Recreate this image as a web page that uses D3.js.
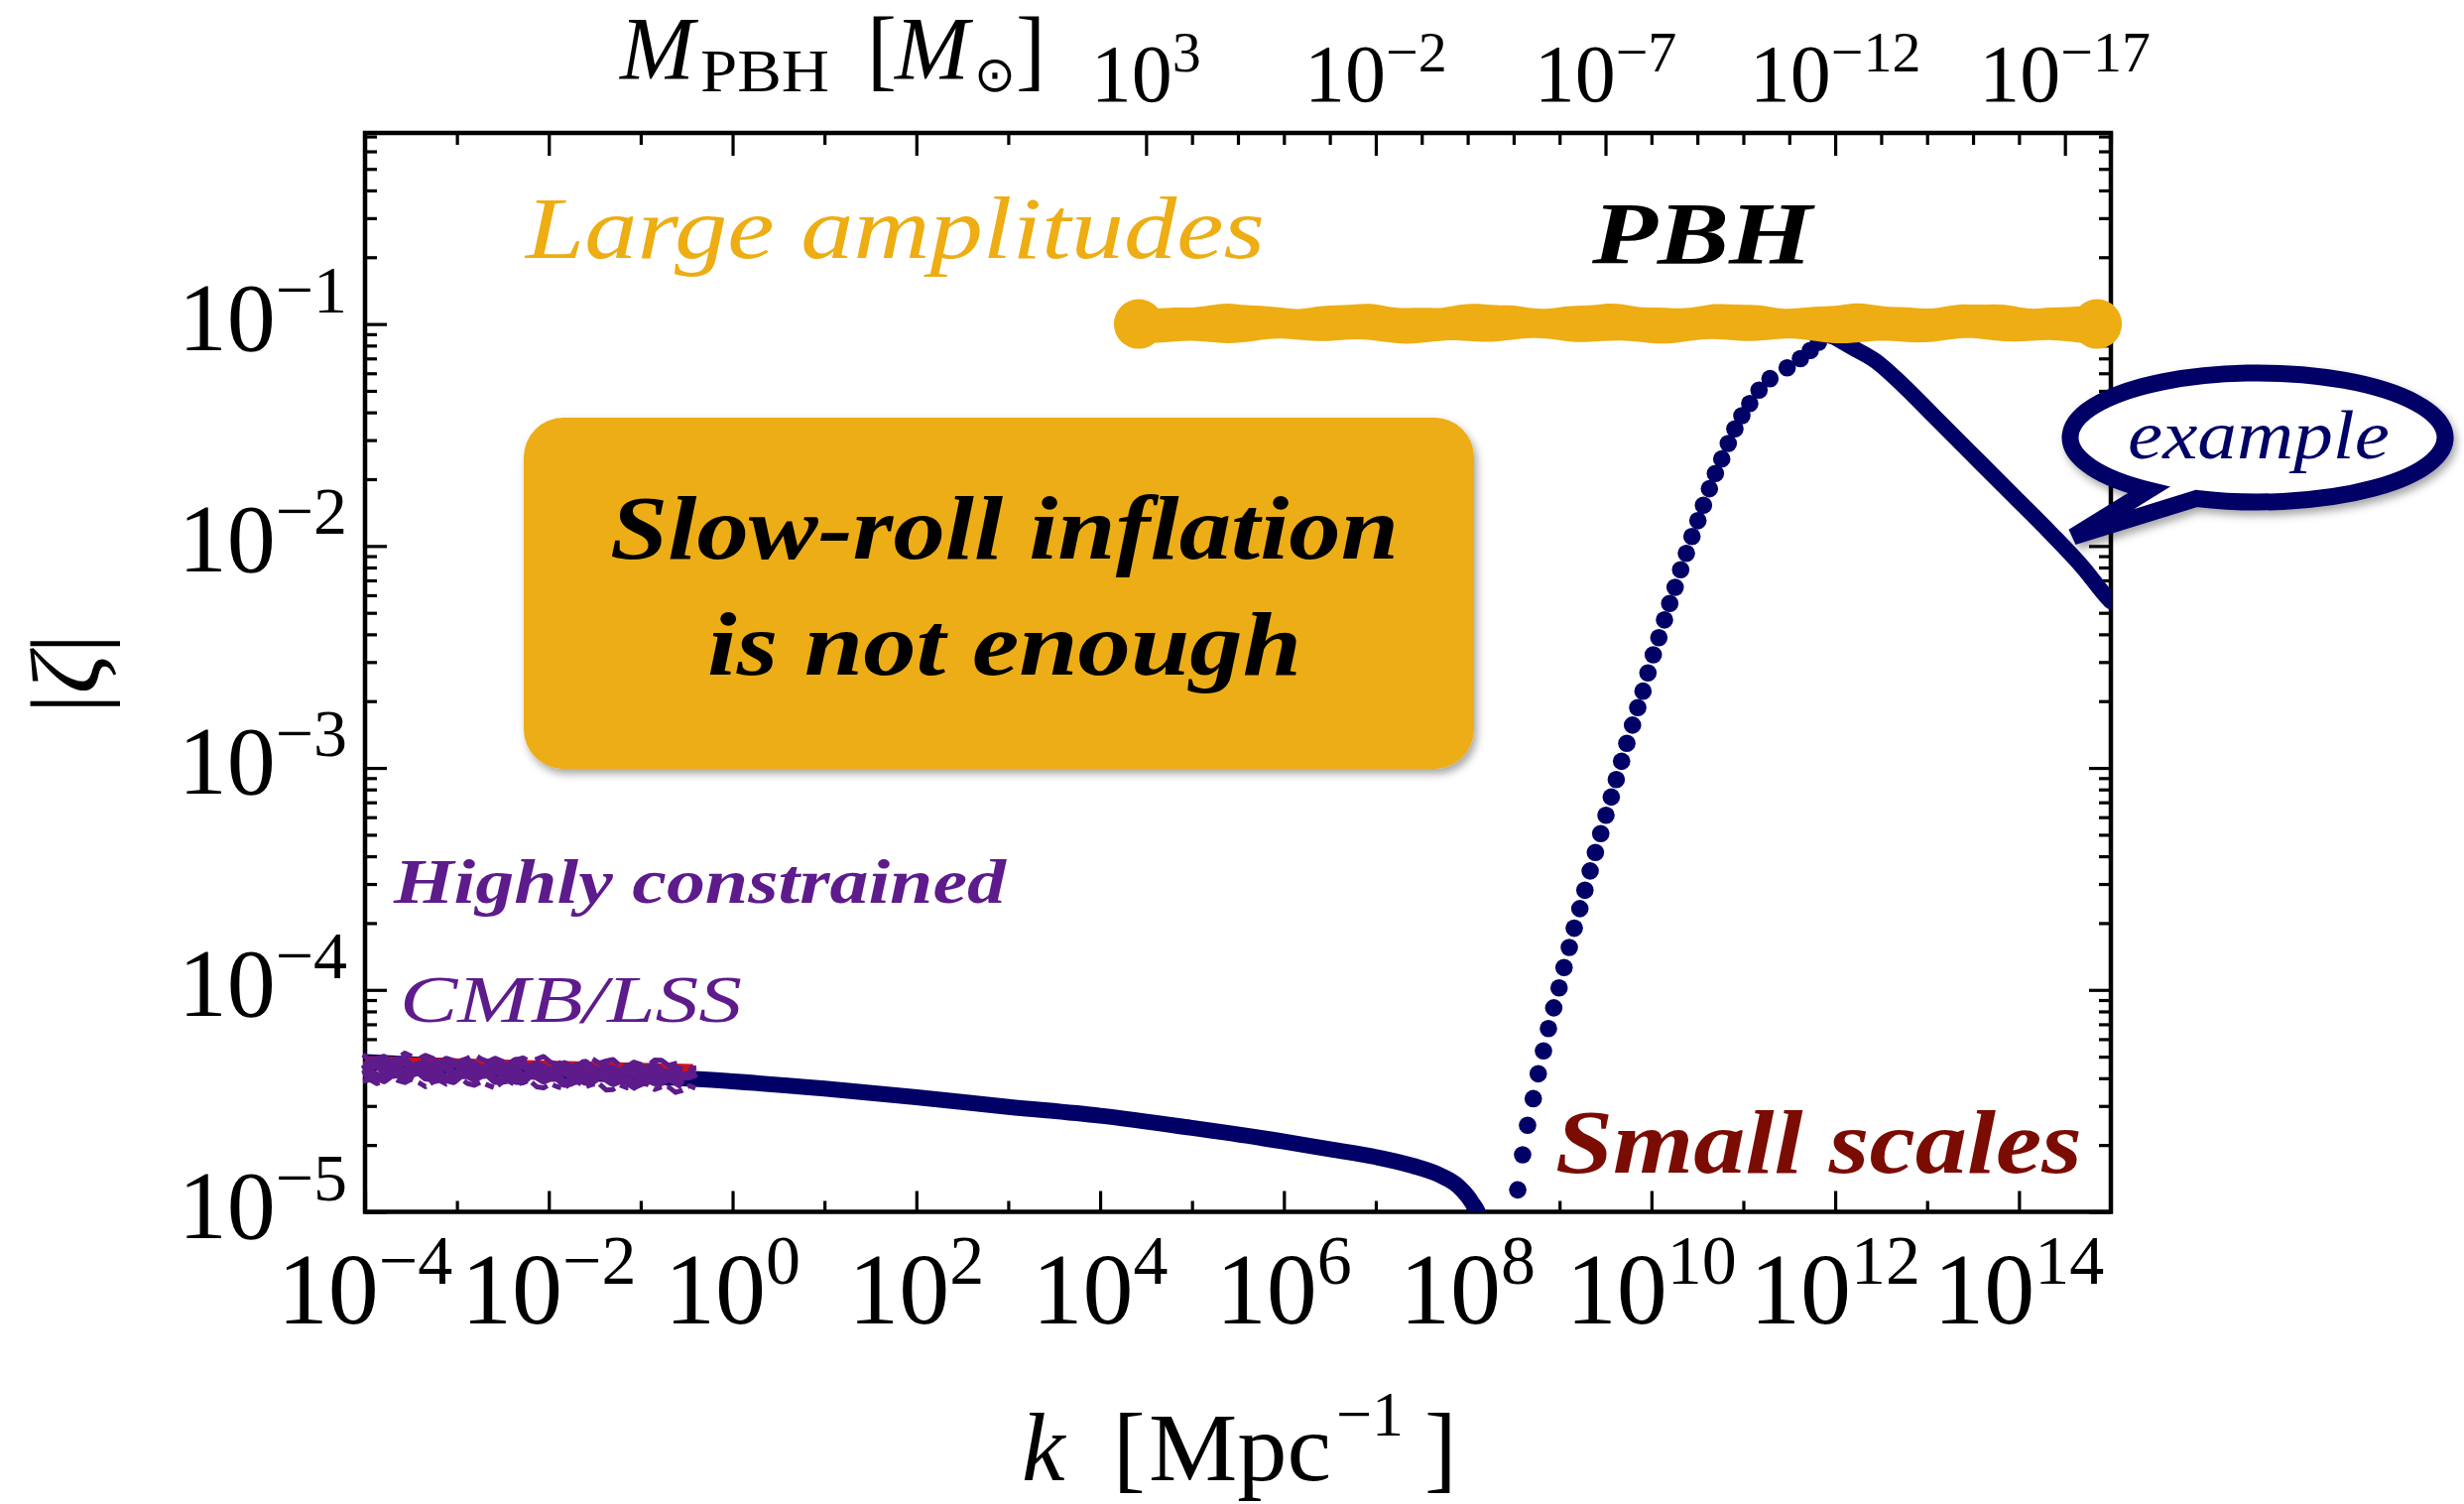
<!DOCTYPE html>
<html><head><meta charset="utf-8">
<script src="https://cdn.jsdelivr.net/npm/d3@7"></script>
<style>
body{margin:0;background:#fff;}
svg{display:block;}
text{font-family:"Liberation Serif","Times New Roman",serif;}
</style></head><body>
<svg id="chart" width="2484" height="1516"></svg>
<script>
// ---------------- data ----------------
const xDomainExp = [-4, 15];            // k range, log10 Mpc^-1
const yDomainExp = [-5, -0.139];        // |zeta| range, log10
const bottomTickExps = d3.range(-4, 15);          // every decade
const bottomLabelExps = [-4, -2, 0, 2, 4, 6, 8, 10, 12, 14];
const leftLabelExps = [-5, -4, -3, -2, -1];
const topKTickExps = d3.range(-3, 4);
const massTickExps = d3.range(3, -19, -1);        // M_PBH decades (M_sun)
const massLabelExps = [3, -2, -7, -12, -17];
const massOfK0 = 12;                               // log10 M = 12 - 2 log10 k

// slow-roll part (solid)
const lowLogK    = [-4, -3, -2, -1, 0, 1, 2, 3, 4, 5, 6, 6.5, 7, 7.4, 7.7, 7.9, 8.0, 8.05, 8.11, 8.2];
const lowLogZeta = [-4.325, -4.345, -4.366, -4.388, -4.412, -4.445, -4.484, -4.527, -4.567, -4.622, -4.683, -4.718, -4.753, -4.792, -4.835, -4.885, -4.93, -4.96, -5.0, -5.15];

// rising part (dots)
const riseLogK = [8.545,8.598,8.652,8.714,8.768,8.825,8.879,8.937,8.995,9.049,9.106,9.160,9.221,9.276,9.333,9.390,9.448,9.505,9.563,9.617,9.675,9.732,9.794,9.851,9.908,9.962,10.020,10.081,10.142,10.199,10.258,10.318,10.380,10.441,10.506,10.566,10.631,10.696,10.765,10.836,10.908,10.984,11.070,11.171,11.290,11.477,11.621,11.729,11.819,11.963];
const riseLogZeta = [-4.901,-4.743,-4.610,-4.490,-4.378,-4.275,-4.174,-4.081,-3.991,-3.899,-3.809,-3.722,-3.634,-3.551,-3.464,-3.381,-3.296,-3.213,-3.131,-3.052,-2.970,-2.889,-2.807,-2.728,-2.654,-2.572,-2.490,-2.413,-2.333,-2.259,-2.186,-2.107,-2.033,-1.957,-1.886,-1.816,-1.742,-1.673,-1.608,-1.538,-1.472,-1.413,-1.358,-1.298,-1.246,-1.197,-1.156,-1.119,-1.082,-1.052];

// falling part (solid)
const fallLogK    = [11.963, 12.179, 12.431, 12.719, 13.079, 13.475, 13.907, 14.338, 14.698, 14.968, 15.0];
const fallLogZeta = [-1.052, -1.104, -1.164, -1.268, -1.417, -1.581, -1.760, -1.939, -2.098, -2.236, -2.25];

// PBH threshold band
const thresholdZeta = 0.1;
const thresholdLogK = [4.42, 14.85];

// CMB/LSS constraint scribble
const cmbLogK = [-4, -0.43];
const cmbLogZeta = [-4.354, -4.390];

// ---------------- colours ----------------
const NAVY = "#000066", ORANGE = "#EDAD13", PURPLE = "#5E1B8B", DARKRED = "#7B0C03";

// ---------------- layout ----------------
const L = 368, R = 2128, T = 134, B = 1221.5;
const svg = d3.select("#chart");
svg.append("rect").attr("width", 2484).attr("height", 1516).attr("fill", "#fff");

const defs = svg.append("defs");
defs.append("clipPath").attr("id", "plotclip").append("rect")
  .attr("x", L).attr("y", T).attr("width", R - L).attr("height", B - T);
const sh = defs.append("filter").attr("id", "shadow").attr("x", "-20%").attr("y", "-20%").attr("width", "150%").attr("height", "160%");
sh.append("feDropShadow").attr("dx", 3).attr("dy", 5).attr("stdDeviation", 4).attr("flood-color", "#000").attr("flood-opacity", 0.35);

const gAxes = svg.append("g");
const plot = svg.append("g").attr("clip-path", "url(#plotclip)");
const gText = svg.append("g");
const gTop = svg.append("g");

const x = d3.scaleLog().domain([10 ** xDomainExp[0], 10 ** xDomainExp[1]]).range([L, R]);
const y = d3.scaleLog().domain([10 ** yDomainExp[0], 10 ** yDomainExp[1]]).range([B, T]);

// ---------------- axes ----------------
const yTicks = [];
for (let e = -5; e <= -1; e++) for (let m = 1; m <= 9; m++) {
  const v = m * 10 ** e;
  if (v <= 10 ** yDomainExp[1]) yTicks.push({ v, major: m === 1 });
}
const yVals = yTicks.map(d => d.v);
const isMajorY = v => yTicks.find(t => Math.abs(t.v - v) < 1e-9 * v).major;

function styleTicks(g, lenFn, attr) {
  g.select(".domain").remove();
  g.selectAll(".tick text").remove();
  g.selectAll(".tick line").attr(attr, lenFn).attr("stroke", "#000").attr("stroke-width", 3.2);
}
const gL = gAxes.append("g").attr("transform", `translate(${L},0)`)
  .call(d3.axisRight(y).tickValues(yVals).tickFormat(""));
styleTicks(gL, d => isMajorY(d) ? 22 : 12, "x2");
const gR = gAxes.append("g").attr("transform", `translate(${R},0)`)
  .call(d3.axisLeft(y).tickValues(yVals).tickFormat(""));
styleTicks(gR, d => isMajorY(d) ? -22 : -12, "x2");
const gB = gAxes.append("g").attr("transform", `translate(0,${B})`)
  .call(d3.axisTop(x).tickValues(bottomTickExps.map(e => 10 ** e)).tickFormat(""));
styleTicks(gB, d => (Math.round(Math.log10(d)) % 2 === 0) ? -21 : -11, "y2");
const gTk = gAxes.append("g").attr("transform", `translate(0,${T})`)
  .call(d3.axisBottom(x).tickValues(topKTickExps.map(e => 10 ** e)).tickFormat(""));
styleTicks(gTk, d => (Math.round(Math.log10(d)) % 2 === 0) ? 23 : 12, "y2");
const massToK = m => 10 ** ((massOfK0 - m) / 2);
const gTm = gAxes.append("g").attr("transform", `translate(0,${T})`)
  .call(d3.axisBottom(x).tickValues(massTickExps.map(massToK)).tickFormat(""));
styleTicks(gTm, d => {
  const m = Math.round(massOfK0 - 2 * Math.log10(d));
  return massLabelExps.includes(m) ? 23 : 12;
}, "y2");
gAxes.append("rect").attr("x", L).attr("y", T).attr("width", R - L).attr("height", B - T)
  .attr("fill", "none").attr("stroke", "#000").attr("stroke-width", 4.5);

// tick labels
function powLabel(px, py, exp, size, supSize, rise, anchor) {
  const t = gAxes.append("text").attr("x", px).attr("y", py)
    .attr("text-anchor", anchor).attr("font-size", size).style("fill", "#000");
  t.append("tspan").text("10");
  t.append("tspan").attr("font-size", supSize).attr("dy", -rise)
    .text(exp < 0 ? "\u2212" + (-exp) : String(exp));
  return t;
}
bottomLabelExps.forEach(e => powLabel(x(10 ** e), B + 112, e, 102, 70, 40, "middle"));
leftLabelExps.forEach(e => powLabel(L - 18, y(10 ** e) + 26, e, 98, 68, 38, "end"));
massLabelExps.forEach(e => powLabel(x(massToK(e)), 102, e, 82, 58, 30, "middle"));

// axis titles
const tt = gAxes.append("text").attr("y", 80).attr("font-size", 90);
tt.append("tspan").attr("x", 625).attr("font-style", "italic").text("M");
tt.append("tspan").attr("x", 706).attr("dy", 12).attr("font-size", 62)
  .attr("textLength", 130).attr("lengthAdjust", "spacingAndGlyphs").text("PBH");
tt.append("tspan").attr("x", 874).attr("dy", -12).text("[");
tt.append("tspan").attr("x", 902).attr("font-style", "italic").text("M");
tt.append("tspan").attr("x", 982).attr("dy", 12).attr("font-size", 50).text("\u2299");
tt.append("tspan").attr("x", 1024).attr("dy", -12).text("]");

const xt = gAxes.append("text").attr("y", 1492).attr("font-size", 98);
xt.append("tspan").attr("x", 1030).attr("font-style", "italic").text("k");
xt.append("tspan").attr("x", 1122).text("[");
xt.append("tspan").attr("x", 1158).attr("textLength", 184).attr("lengthAdjust", "spacingAndGlyphs").text("Mpc");
xt.append("tspan").attr("x", 1347).attr("dy", -45).attr("font-size", 64).text("\u22121");
xt.append("tspan").attr("x", 1436).attr("dy", 45).text("]");

gAxes.append("text").attr("transform", "translate(100,679) rotate(-90)")
  .attr("text-anchor", "middle").attr("font-size", 100)
  .html('|<tspan font-style="italic">ζ</tspan>|');

// ---------------- curves ----------------
const line = d3.line().x(d => x(10 ** d[0])).y(d => y(10 ** d[1])).curve(d3.curveMonotoneX);

plot.append("path").datum(d3.zip(lowLogK, lowLogZeta))
  .attr("d", line).attr("fill", "none").attr("stroke", NAVY).attr("stroke-width", 16);
plot.append("path").datum(d3.zip(fallLogK, fallLogZeta))
  .attr("d", line).attr("fill", "none").attr("stroke", NAVY).attr("stroke-width", 16)
  .attr("stroke-linejoin", "round").attr("stroke-linecap", "round");
plot.selectAll("circle.rise").data(d3.zip(riseLogK, riseLogZeta)).join("circle")
  .attr("class", "rise").attr("cx", d => x(10 ** d[0])).attr("cy", d => y(10 ** d[1]))
  .attr("r", 8.8).attr("fill", NAVY);

// CMB / LSS scribble
const cmbLine = d3.line().x(d => x(10 ** d[0])).y(d => y(10 ** d[1]));
const cmbPts = d3.zip(cmbLogK, cmbLogZeta);
const cx0 = x(10 ** cmbLogK[0]), cx1 = x(10 ** cmbLogK[1]);
const cyAt = px => y(10 ** (cmbLogZeta[0] + (cmbLogZeta[1] - cmbLogZeta[0]) * (px - cx0) / (cx1 - cx0)));
const scrib = gText.append("g");
scrib.append("path").datum(cmbPts).attr("d", cmbLine)
  .attr("transform", "translate(0,-8)").attr("stroke", "#D0101A").attr("stroke-width", 9).attr("fill", "none");
for (let k = 0; k < 5; k++) {
  const off = -12 + k * 6;
  const pts = [];
  for (let px = cx0 - 2; px <= cx1 + (k % 2 ? -8 : 6); px += 7) {
    const i = (px - cx0) / 7;
    pts.push([px, cyAt(px) + off + 3 * Math.sin(i * 1.9 + k) + 2 * Math.sin(i * 0.7 + 2 * k)]);
  }
  scrib.append("path").attr("d", d3.line()(pts)).attr("fill", "none")
    .attr("stroke", PURPLE).attr("stroke-width", k === 0 || k === 4 ? 5 : 9)
    .attr("stroke-linejoin", "round").attr("stroke-dasharray", k === 0 ? "30 14 12 9" : (k === 4 ? "18 6 9 5" : null));
}

// ---------------- annotations ----------------
function label(g, txt, px, py, size, color, italic, bold, len) {
  return g.append("text").attr("x", px).attr("y", py).attr("font-size", size)
    .style("fill", color).attr("font-style", italic ? "italic" : "normal")
    .attr("font-weight", bold ? "bold" : "normal")
    .attr("textLength", len).attr("lengthAdjust", "spacingAndGlyphs").text(txt);
}
label(gText, "Large amplitudes", 530, 260, 88, ORANGE, true, false, 745);
label(gText, "PBH", 1605, 265, 88, "#000", true, true, 222);
label(gText, "Highly constrained", 397, 910, 63, PURPLE, true, true, 617);
label(gText, "CMB/LSS", 403, 1030, 68, PURPLE, true, false, 345);
label(gText, "Small scales", 1568, 1182, 90, DARKRED, true, true, 531);

// orange box
gText.append("rect").attr("x", 528).attr("y", 421).attr("width", 958).attr("height", 354)
  .attr("rx", 40).attr("fill", ORANGE).attr("filter", "url(#shadow)");
label(gText, "Slow-roll inflation", 615, 563, 90, "#000", true, true, 795);
label(gText, "is not enough", 713, 680, 90, "#000", true, true, 599);

// threshold band (wavy)
const bx0 = x(10 ** thresholdLogK[0]), bx1 = x(10 ** thresholdLogK[1]), by = y(thresholdZeta);
const topE = [], botE = [];
for (let px = bx0; px <= bx1; px += 18) {
  const i = (px - bx0) / 18;
  topE.push([px, by - 18 + 2.5 * Math.sin(i * 0.9) + 1.5 * Math.sin(i * 2.3)]);
  botE.push([px, by + 17 + 2 * Math.sin(i * 1.3 + 1) + 1.5 * Math.sin(i * 0.5)]);
}
topE.push([bx1, by - 18]); botE.push([bx1, by + 17]);
gTop.append("path").attr("d", d3.line().curve(d3.curveBasis)(topE.concat(botE.reverse())) + "Z")
  .attr("fill", ORANGE);
gTop.append("ellipse").attr("cx", bx0).attr("cy", by).attr("rx", 25).attr("ry", 25).attr("fill", ORANGE);
gTop.append("ellipse").attr("cx", bx1).attr("cy", by).attr("rx", 25).attr("ry", 25).attr("fill", ORANGE);

// speech bubble
const bcx = 2276, bcy = 441, brx = 189, bry = 65;
const pA = [bcx + brx * Math.cos(125.5 * Math.PI / 180), bcy + bry * Math.sin(125.5 * Math.PI / 180)];
const pB = [bcx + brx * Math.cos(109 * Math.PI / 180), bcy + bry * Math.sin(109 * Math.PI / 180)];
const tip = [2090, 541];
gTop.append("path")
  .attr("d", `M${pA[0]},${pA[1]} A${brx},${bry} 0 1 1 ${pB[0]},${pB[1]} L${tip[0]},${tip[1]} Z`)
  .attr("fill", "#fff").attr("stroke", NAVY).attr("stroke-width", 17).attr("stroke-linejoin", "miter")
  .attr("filter", "url(#shadow)");
label(gTop, "example", 2145, 462, 70, NAVY, true, false, 264);
</script>
</body></html>
